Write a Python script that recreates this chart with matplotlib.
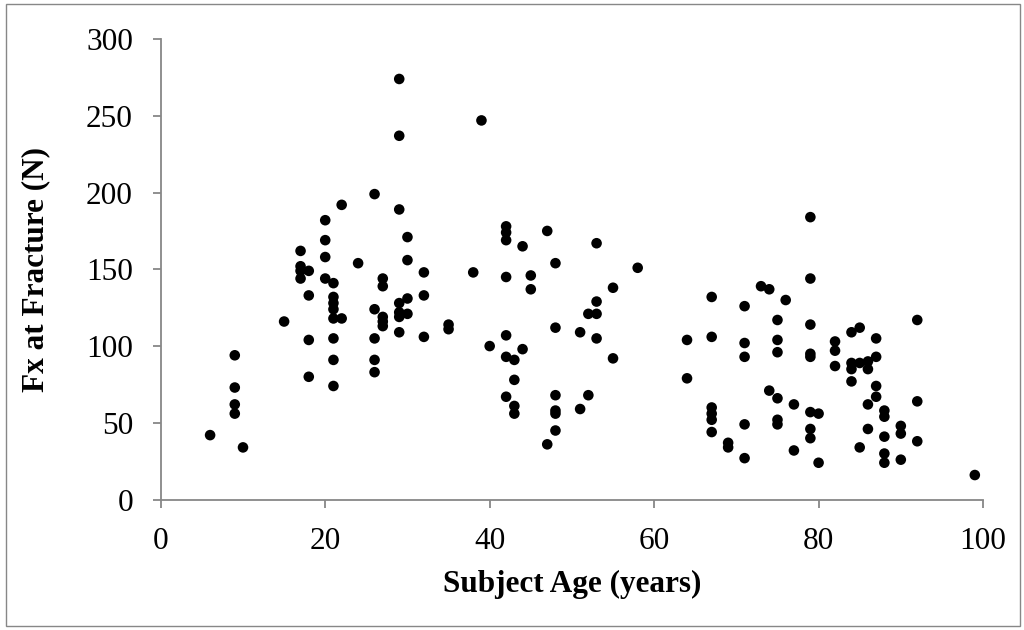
import matplotlib
matplotlib.use("Agg")
import matplotlib.pyplot as plt
from matplotlib.patches import Rectangle

plt.rcParams['font.family'] = ['Liberation Serif', 'DejaVu Serif']

# subject age (years) and Fx at fracture (N)
age = [6,
       9, 9, 9, 9,
       10, 15,
       17, 17, 17, 17,
       18, 18, 18, 18,
       20, 20, 20, 20,
       21, 21, 21, 21, 21, 21, 21, 21,
       22, 22, 24,
       26, 26, 26, 26, 26,
       27, 27, 27, 27, 27,
       29, 29, 29, 29, 29, 29, 29,
       30, 30, 30, 30,
       32, 32, 32,
       35, 35, 38, 39, 40,
       42, 42, 42, 42, 42, 42, 42,
       43, 43, 43, 43,
       44, 44, 45, 45, 47, 47,
       48, 48, 48, 48, 48, 48,
       51, 51, 52, 52,
       53, 53, 53, 53,
       55, 55, 58,
       64, 64,
       67, 67, 67, 67, 67, 67,
       69, 69,
       71, 71, 71, 71, 71,
       73, 74, 74,
       75, 75, 75, 75, 75, 75,
       76, 77, 77,
       79, 79, 79, 79, 79, 79, 79, 79,
       80, 80,
       82, 82, 82,
       84, 84, 84, 84,
       85, 85, 85,
       86, 86, 86, 86,
       87, 87, 87, 87,
       88, 88, 88, 88, 88,
       90, 90, 90,
       92, 92, 92,
       99]
force = [42,
         94, 73, 62, 56,
         34, 116,
         162, 152, 149, 144,
         149, 133, 104, 80,
         182, 169, 158, 144,
         141, 132, 128, 124, 118, 105, 91, 74,
         192, 118, 154,
         199, 124, 105, 91, 83,
         144, 139, 119, 116, 113,
         274, 237, 189, 128, 122, 119, 109,
         171, 156, 131, 121,
         148, 133, 106,
         114, 111, 148, 247, 100,
         178, 174, 169, 145, 107, 93, 67,
         91, 78, 61, 56,
         165, 98, 146, 137, 175, 36,
         154, 112, 68, 58, 56, 45,
         109, 59, 121, 68,
         167, 129, 121, 105,
         138, 92, 151,
         104, 79,
         132, 106, 60, 56, 52, 44,
         37, 34,
         126, 102, 93, 49, 27,
         139, 137, 71,
         117, 104, 96, 66, 52, 49,
         130, 62, 32,
         184, 144, 114, 95, 93, 57, 46, 40,
         56, 24,
         103, 97, 87,
         109, 89, 85, 77,
         112, 89, 34,
         90, 85, 62, 46,
         105, 93, 74, 67,
         58, 54, 41, 30, 24,
         48, 43, 26,
         117, 64, 38,
         16]

x_ticks = [0, 20, 40, 60, 80, 100]
y_ticks = [0, 50, 100, 150, 200, 250, 300]

axis_gray = '#878787'

fig = plt.figure(figsize=(10.24, 6.3), dpi=100)
ax = fig.add_axes([0.157, 0.207, 0.803, 0.731])

ax.scatter(age, force, s=58, color='black', edgecolors='none', zorder=3)

ax.set_xlim(0, 100)
ax.set_ylim(0, 300)
ax.set_xticks(x_ticks)
ax.set_yticks(y_ticks)

for side in ['top', 'right']:
    ax.spines[side].set_visible(False)
for side in ['left', 'bottom']:
    ax.spines[side].set_color(axis_gray)
    ax.spines[side].set_linewidth(1.3)

ax.tick_params(axis='both', direction='out', length=6, width=1.3,
               color=axis_gray, labelsize=22.5, labelcolor='black')
ax.tick_params(axis='x', pad=14)
ax.tick_params(axis='y', pad=14)

ax.set_xlabel("Subject Age (years)", fontsize=22.5, fontweight='bold', labelpad=10)
ax.set_ylabel("Fx at Fracture (N)", fontsize=22.5, fontweight='bold', labelpad=26)

# thin outer frame around the whole chart
fig.patches.append(Rectangle((6 / 1024, 4 / 630), 1014 / 1024, 622 / 630,
                             transform=fig.transFigure, fill=False,
                             edgecolor=axis_gray, linewidth=1.0))

fig.savefig("out.png", dpi=100)
plt.close('all')
